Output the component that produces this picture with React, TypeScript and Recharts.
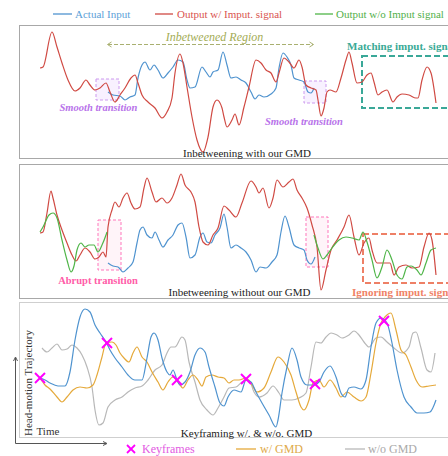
import React from 'react'
import { LineChart, Line, XAxis, YAxis, ReferenceArea } from 'recharts'

type Pt = [number, number]

// frame index, signal value
// Panel 1: inbetweening with our GMD
const p1Input: Pt[] = [
  [68, 66], [73, 63], [80, 62], [85, 58], [90, 61], [95, 63], [98, 80], [102, 93], [105, 96], [110, 88],
  [114, 93], [118, 88], [123, 80], [128, 85], [133, 91], [138, 98], [143, 96], [147, 78], [150, 70], [155, 71],
  [162, 91], [166, 86], [170, 81], [173, 86], [178, 88], [183, 106], [187, 93], [191, 80], [196, 81], [201, 78],
  [206, 75], [211, 66], [215, 59], [219, 63], [224, 61], [231, 64], [236, 70], [239, 90], [243, 105], [247, 101],
  [251, 93], [254, 80], [259, 78], [264, 76], [268, 66], [271, 65], [274, 70],
]
const p1Output: Pt[] = [
  [0, 90], [3, 91], [12, 126], [17, 111], [22, 95], [28, 78], [35, 67], [40, 70], [46, 78], [50, 73],
  [55, 68], [60, 70], [66, 75], [70, 66], [75, 56], [80, 63], [85, 70], [91, 80], [95, 83], [98, 75],
  [102, 63], [108, 56], [115, 50], [122, 40], [127, 46], [132, 60], [135, 85], [140, 104], [143, 95], [147, 71],
  [152, 41], [157, 18], [163, 6], [168, 21], [173, 51], [177, 58], [182, 50], [184, 41], [187, 31], [192, 38],
  [195, 44], [199, 33], [204, 51], [209, 71], [216, 98], [221, 95], [226, 88], [231, 85], [236, 76], [239, 85],
  [244, 100], [249, 96], [254, 90], [259, 98], [262, 91], [266, 73], [271, 70], [276, 68], [278, 58], [281, 42],
  [284, 50], [287, 66], [290, 68], [296, 66], [301, 80], [306, 98], [309, 106], [312, 95], [317, 75], [322, 76],
  [327, 83], [331, 85], [334, 76], [338, 63], [342, 66], [347, 68], [353, 56], [357, 61], [362, 64], [369, 63],
  [376, 60], [378, 60], [382, 78], [387, 91], [391, 85], [396, 55],
]

// Panel 2: inbetweening without our GMD
const p2Input: Pt[] = [
  [68, 34], [73, 31], [78, 30], [83, 25], [88, 29], [93, 35], [97, 54], [100, 67], [103, 70], [107, 62],
  [112, 59], [115, 65], [119, 57], [123, 50], [128, 57], [133, 62], [138, 72], [142, 74], [146, 60], [150, 39],
  [155, 42], [160, 60], [163, 64], [167, 55], [171, 54], [175, 62], [180, 69], [184, 83], [187, 70], [191, 49],
  [196, 52], [201, 49], [206, 45], [211, 37], [216, 25], [220, 30], [226, 29], [232, 35], [237, 42], [241, 65],
  [245, 81], [249, 70], [254, 52], [259, 49], [264, 47], [267, 37], [271, 33], [275, 40],
]
const p2Output: Pt[] = [
  [0, 64], [3, 65], [7, 84], [11, 106], [13, 99], [17, 82], [22, 67], [27, 54], [32, 42], [36, 36],
  [40, 42], [45, 49], [50, 45], [55, 38], [59, 40], [63, 45], [66, 40], [68, 70], [72, 87], [75, 95],
  [79, 90], [83, 99], [87, 104], [91, 94], [95, 88], [100, 90], [104, 109], [107, 119], [112, 105], [116, 95],
  [122, 99], [127, 94], [132, 99], [137, 112], [141, 123], [145, 112], [151, 105], [155, 95], [159, 70], [163, 55],
  [168, 52], [173, 62], [178, 69], [184, 91], [189, 87], [196, 80], [202, 94], [211, 116], [216, 110], [219, 104],
  [223, 109], [229, 89], [233, 99], [237, 117], [243, 110], [249, 115], [253, 118], [257, 107], [262, 99], [267, 89],
  [272, 72], [277, 50], [281, 7], [286, 27], [291, 47], [297, 57], [304, 70], [309, 82], [314, 60], [319, 42],
  [324, 54], [329, 59], [332, 47], [337, 34], [344, 34], [350, 34], [354, 22], [359, 30], [366, 32], [372, 29],
  [379, 30], [384, 50], [389, 64], [392, 57], [396, 22],
]
const p2NoInputA: Pt[] = [
  [0, 65], [3, 70], [9, 82], [13, 84], [17, 79], [22, 57], [27, 37], [31, 25], [34, 31], [37, 47],
  [41, 54], [45, 50], [49, 52], [54, 52], [58, 45], [62, 52], [66, 62], [67, 65],
]
const p2NoInputB: Pt[] = [
  [274, 62], [278, 49], [283, 38], [287, 42], [292, 49], [299, 57], [306, 60], [312, 59], [319, 57], [323, 65],
  [327, 55], [332, 37], [337, 19], [342, 30], [347, 47], [352, 37], [357, 22], [362, 18], [367, 30], [371, 31],
  [377, 27], [381, 22], [386, 34], [391, 47], [396, 49],
]

// Panel 3: keyframing w/ & w/o GMD
const p3Truth: Pt[] = [
  [0, 59], [5, 57], [10, 54], [18, 51], [25, 51], [30, 65], [35, 97], [40, 120], [45, 128], [50, 125],
  [55, 112], [60, 104], [66, 95], [70, 87], [75, 79], [82, 70], [88, 62], [95, 57], [102, 57], [107, 79],
  [111, 100], [114, 104], [118, 97], [122, 79], [127, 65], [130, 62], [133, 67], [137, 57], [140, 52], [145, 55],
  [150, 65], [155, 82], [160, 89], [165, 85], [169, 70], [175, 50], [180, 34], [184, 31], [188, 40], [194, 47],
  [201, 45], [206, 57], [211, 55], [216, 45], [222, 34], [229, 22], [236, 10], [238, 17], [242, 44], [247, 70],
  [252, 89], [257, 77], [261, 60], [267, 52], [274, 52], [279, 55], [284, 65], [290, 71], [296, 60], [301, 44],
  [305, 40], [309, 49], [314, 50], [321, 48], [326, 57], [331, 90], [336, 114], [341, 119], [347, 114], [352, 94],
  [357, 67], [364, 40], [371, 30], [377, 24], [384, 24], [390, 25], [396, 37],
]
const p3WithGmd: Pt[] = [
  [0, 59], [5, 52], [10, 48], [17, 40], [22, 35], [27, 40], [33, 47], [40, 50], [47, 49], [53, 52],
  [57, 62], [62, 80], [66, 94], [72, 95], [76, 92], [80, 84], [84, 79], [89, 75], [93, 84], [97, 90],
  [102, 80], [107, 75], [112, 65], [118, 55], [123, 47], [128, 55], [133, 60], [138, 55], [143, 49], [148, 57],
  [153, 62], [158, 57], [162, 51], [166, 60], [172, 62], [178, 60], [184, 59], [189, 54], [194, 57], [199, 57],
  [206, 59], [212, 52], [217, 45], [224, 49], [231, 65], [238, 80], [244, 75], [251, 62], [256, 45], [261, 30],
  [264, 27], [269, 37], [273, 54], [279, 57], [284, 50], [290, 57], [296, 49], [301, 40], [307, 45], [314, 40],
  [321, 36], [326, 40], [331, 64], [336, 94], [341, 114], [345, 120], [351, 124], [356, 107], [361, 87], [366, 82],
  [371, 70], [376, 57], [382, 50], [389, 51], [396, 52],
]
const p3WithoutGmd: Pt[] = [
  [2, 89], [7, 85], [12, 89], [17, 93], [22, 87], [27, 88], [32, 92], [37, 89], [42, 82], [47, 70],
  [52, 50], [55, 27], [59, 12], [63, 14], [68, 30], [75, 37], [82, 40], [88, 45], [95, 49], [102, 51],
  [108, 57], [115, 67], [122, 72], [127, 84], [131, 90], [135, 90], [142, 100], [145, 97], [149, 75], [155, 55],
  [160, 37], [167, 27], [173, 22], [178, 29], [184, 40], [189, 49], [196, 50], [202, 55], [209, 57], [214, 45],
  [219, 40], [227, 44], [233, 51], [239, 44], [244, 37], [252, 37], [259, 39], [266, 44], [271, 70], [276, 95],
  [281, 94], [286, 100], [291, 104], [297, 102], [302, 99], [309, 102], [314, 106], [319, 102], [324, 95], [329, 90],
  [336, 99], [341, 100], [347, 95], [354, 89], [362, 84], [369, 90], [373, 104], [376, 105], [381, 89], [387, 67],
  [391, 65], [395, 84],
]
const p3Keyframes: Pt[] = [[0, 59], [67, 94], [137, 57], [206, 58], [275, 53], [344, 116]]

const topLegend = ['Actual Input', 'Output w/ Imput. signal', 'Output w/o Imput signal']
const bottomLegend = ['Keyframes', 'w/ GMD', 'w/o GMD']
const captions = ['Inbetweening with our GMD', 'Inbetweening without our GMD', 'Keyframing w/. & w/o. GMD']

const BLUE = '#4f93cf'
const RED = '#d04a43'
const GREEN = '#4fb548'
const ORANGE = '#e5a93a'
const GRAY = '#b8b8b8'
const MAGENTA = '#ff00ff'
const FONT = '"Liberation Serif", "Times New Roman", serif'

const toRows = (pts: Pt[]) => pts.map(([x, y]) => ({ x, y }))

function Cross(props: any) {
  const { cx, cy } = props
  if (cx == null || cy == null) return null
  const s = 5
  return (
    <g stroke={MAGENTA} strokeWidth={2}>
      <line x1={cx - s} y1={cy - s} x2={cx + s} y2={cy + s} />
      <line x1={cx - s} y1={cy + s} x2={cx + s} y2={cy - s} />
    </g>
  )
}

function series(pts: Pt[], color: string, key: string) {
  return (
    <Line
      key={key}
      data={toRows(pts)}
      dataKey="y"
      type="monotone"
      stroke={color}
      strokeWidth={1.2}
      dot={false}
      isAnimationActive={false}
    />
  )
}

function Panel({ top, height, yDomain, border, children }: any) {
  return (
    <div
      style={{
        position: 'absolute', left: 19, top, width: 442, height,
        border: `1px solid ${border}`, boxSizing: 'border-box',
      }}
    >
      <LineChart width={440} height={height - 2} margin={{ top: 0, right: 0, bottom: 0, left: 0 }}>
        <XAxis type="number" dataKey="x" domain={[-20, 420]} hide allowDataOverflow />
        <YAxis type="number" domain={yDomain} hide allowDataOverflow />
        {children}
      </LineChart>
    </div>
  )
}

export default function App() {
  return (
    <div style={{ position: 'absolute', left: 0, top: 0, width: 448, height: 456, overflow: 'hidden', background: '#fff', fontFamily: FONT }}>
      <Panel top={25} height={134} yDomain={[0, 132]} border="#a8a8a8">
        <ReferenceArea x1={56} x2={79} y1={58} y2={79} stroke="#cc99ee" strokeDasharray="3 2" fill="#f1e4ff" fillOpacity={0.5} />
        <ReferenceArea x1={264} x2={286} y1={55} y2={77} stroke="#cc99ee" strokeDasharray="3 2" fill="#f1e4ff" fillOpacity={0.5} />
        <ReferenceArea x1={322} x2={415} y1={50} y2={102} stroke="#3aa898" strokeWidth={2} strokeDasharray="6 3" fill="none" />
        {series(p1Input, BLUE, 'b')}
        {series(p1Output, RED, 'r')}
      </Panel>
      <Panel top={164} height={135} yDomain={[-1, 132]} border="#a8a8a8">
        <ReferenceArea x1={58} x2={81} y1={27} y2={77} stroke="#ff77bb" strokeDasharray="3 2" fill="#ffe4f0" fillOpacity={0.4} />
        <ReferenceArea x1={266} x2={288} y1={30} y2={80} stroke="#ff77bb" strokeDasharray="3 2" fill="#ffe4f0" fillOpacity={0.4} />
        <ReferenceArea x1={323} x2={415} y1={14} y2={63} stroke="#ee8066" strokeWidth={2} strokeDasharray="6 3" fill="none" />
        {series(p2Input, BLUE, 'b')}
        {series(p2Output, RED, 'r')}
        {series(p2NoInputA, GREEN, 'g1')}
        {series(p2NoInputB, GREEN, 'g2')}
      </Panel>
      <Panel top={302} height={136} yDomain={[0, 134]} border="#cfcfcf">
        {series(p3WithoutGmd, GRAY, 'w')}
        {series(p3WithGmd, ORANGE, 'o')}
        {series(p3Truth, BLUE, 'b')}
        <Line
          data={toRows(p3Keyframes)}
          dataKey="y"
          stroke="none"
          dot={<Cross />}
          isAnimationActive={false}
        />
      </Panel>

      <svg width={448} height={456} style={{ position: 'absolute', left: 0, top: 0, pointerEvents: 'none' }} fontFamily={FONT}>
        {/* top legend */}
        <line x1={53} x2={72} y1={14} y2={14} stroke={BLUE} strokeWidth={1.3} />
        <text x={75} y={17.5} fontSize={11} fill="#5c9fd8">{topLegend[0]}</text>
        <line x1={155} x2={173} y1={14} y2={14} stroke={RED} strokeWidth={1.3} />
        <text x={177} y={17.5} fontSize={11} fill="#d9534f">{topLegend[1]}</text>
        <line x1={315} x2={333} y1={14} y2={14} stroke={GREEN} strokeWidth={1.3} />
        <text x={336} y={17.5} fontSize={11} fill="#52b04a">{topLegend[2]}</text>

        {/* panel 1 notes */}
        <line x1={108} x2={313} y1={44.5} y2={44.5} stroke="#a9b070" strokeDasharray="4 2" />
        <polyline points="111.5,42 107.5,44.5 111.5,47" fill="none" stroke="#a9b070" />
        <polyline points="309.5,42 313.5,44.5 309.5,47" fill="none" stroke="#a9b070" />
        <text x={214.5} y={40.5} fontSize={12} fontStyle="italic" fill="#a3ac55" textAnchor="middle">Inbetweened Region</text>
        <text x={347} y={49.5} fontSize={11} fontWeight="bold" fill="#3aaa96">Matching imput. signal</text>
        <text x={98.5} y={110.5} fontSize={10.5} fontWeight="bold" fontStyle="italic" fill="#b873ea" textAnchor="middle">Smooth transition</text>
        <text x={304} y={124.5} fontSize={10.5} fontWeight="bold" fontStyle="italic" fill="#b873ea" textAnchor="middle">Smooth transition</text>
        <text x={247} y={157} fontSize={11} fill="#222" textAnchor="middle">{captions[0]}</text>

        {/* panel 2 notes */}
        <text x={98} y={283.5} fontSize={10.5} fontWeight="bold" fill="#ff5ca8" textAnchor="middle">Abrupt transition</text>
        <text x={352} y={296} fontSize={11} fontWeight="bold" fill="#f08266">Ignoring imput. signal</text>
        <text x={239.5} y={295.5} fontSize={11} fill="#222" textAnchor="middle">{captions[1]}</text>

        {/* panel 3 notes */}
        <text transform="translate(31.5,383) rotate(-90)" fontSize={11} fill="#333" textAnchor="middle">Head-motion Trajectory</text>
        <text x={36.5} y={435} fontSize={11} fill="#333">Time</text>
        <text x={246.5} y={436.5} fontSize={11} fill="#222" textAnchor="middle">{captions[2]}</text>
        <line x1={15.5} x2={15.5} y1={443.5} y2={358} stroke="#555" />
        <polyline points="13.5,361 15.5,357 17.5,361" fill="none" stroke="#555" />
        <line x1={15.5} x2={106} y1={443.5} y2={443.5} stroke="#555" />
        <polyline points="103,441.5 107,443.5 103,445.5" fill="none" stroke="#555" />

        {/* bottom legend */}
        <g stroke={MAGENTA} strokeWidth={1.8}>
          <line x1={127} y1={445} x2={135} y2={453} />
          <line x1={127} y1={453} x2={135} y2={445} />
        </g>
        <text x={142} y={453} fontSize={12} fill="#e25ae2">{bottomLegend[0]}</text>
        <line x1={236} x2={256} y1={449} y2={449} stroke={ORANGE} strokeWidth={1.3} />
        <text x={260} y={453} fontSize={12} fill="#e0aa48">{bottomLegend[1]}</text>
        <line x1={345} x2={365} y1={449} y2={449} stroke={GRAY} strokeWidth={1.3} />
        <text x={368} y={453} fontSize={12} fill="#aaa">{bottomLegend[2]}</text>
      </svg>
    </div>
  )
}
